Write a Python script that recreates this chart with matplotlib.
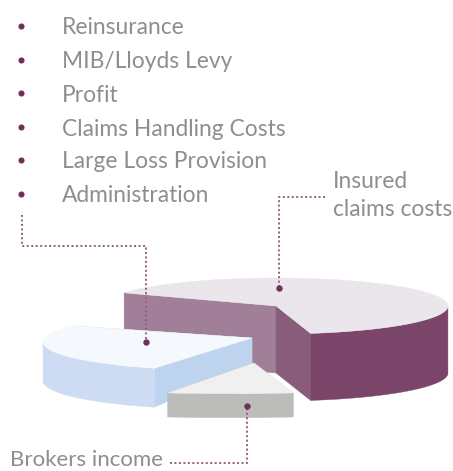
import numpy as np
import matplotlib
matplotlib.use("Agg")
import matplotlib.pyplot as plt
from matplotlib.patches import Polygon

legend_items = ["Reinsurance", "MIB/Lloyds Levy", "Profit", "Claims Handling Costs",
                "Large Loss Provision", "Administration"]
slice_names = ["Insured\nclaims costs", "Administration", "Brokers income"]
slice_shares = [64, 29, 7]

# styling / layout
start_deg = [152, 145, 257.4]        # where each slice's rim starts
direction = [-1, 1, 1]
centers = [(276, 306), (215, 342), (230.5, 362.7)]
radii = [(172, 28), (172, 28), (287, 31)]
apexes = [(276, 306), (252, 338), (254, 363)]
depths = [67, 39, 24]
apex_depths = [67, 26, 24]
top_cols = ["#ebe5ec", "#f5f9fe", "#f0f0f0"]
outer_cols = ["#7b4569", "#cddcf2", "#bcbcba"]
wall_a_cols = ["#a17f98", "#bed3ee", "#bcbcba"]   # wall from first rim end to apex
wall_b_cols = ["#8a5c7c", "#bed3ee", "#bcbcba"]   # wall from apex to last rim end
TEXT = "#8e8e8e"
DOT = "#6e2f5c"
LINE = "#8f5f80"
FS = 16.4

fig = plt.figure(figsize=(4.53, 4.71), dpi=100)
ax = fig.add_axes([0, 0, 1, 1])
ax.set_xlim(0, 453)
ax.set_ylim(471, 0)
ax.axis("off")


def rim(i, a, b):
    t = np.radians(np.linspace(a, b, 100))
    cx, cy = centers[i]
    rx, ry = radii[i]
    return np.column_stack([cx + rx * np.cos(t), cy - ry * np.sin(t)])


def draw_slice(i):
    a = start_deg[i]
    b = a + direction[i] * slice_shares[i] * 3.6
    edge = rim(i, a, b)
    apex = np.array(apexes[i], float)
    d = depths[i]
    ad = apex_depths[i]
    # inner walls
    for p, col in ((edge[0], wall_a_cols[i]), (edge[-1], wall_b_cols[i])):
        ax.add_patch(Polygon([p, apex, apex + (0, ad), p + (0, d)], fc=col, ec=col, lw=0.3, zorder=i + 1))
    # outer visible side
    norm = np.mod(np.linspace(a, b, 100), 360)
    vis = edge[norm >= 180]
    if len(vis) > 1:
        side = np.vstack([vis, (vis + (0, d))[::-1]])
        ax.add_patch(Polygon(side, fc=outer_cols[i], ec=outer_cols[i], lw=0.3, zorder=i + 1.1))
    ax.add_patch(Polygon(np.vstack([apex, edge]), fc=top_cols[i], ec=top_cols[i], lw=0.3, zorder=i + 1.2))


for i in range(3):
    draw_slice(i)

# legend
for y, label in zip([26, 60, 93, 127, 160, 194], legend_items):
    ax.plot([21], [y], "o", ms=4.4, color=DOT, mec="none", zorder=10)
    ax.text(62, y + 2, label, fontsize=FS, family="Lato", color=TEXT, va="center", ha="left")

# leader lines
leaders = [
    ([22, 22, 146, 146], [215, 246, 246, 342]),
    ([325, 279, 279], [197, 197, 288]),
    ([170, 247, 247], [463, 463, 406]),
]
for xs, ys in leaders:
    ax.plot(xs, ys, color=LINE, lw=1.4, ls=(0, (1, 1.3)), zorder=8)
    ax.plot([xs[-1]], [ys[-1]], "o", ms=4.6, color=DOT, mec="none", zorder=9)

lines = slice_names[0].split("\n")
ax.text(333, 182, lines[0], fontsize=FS, family="Lato", color=TEXT, va="center")
ax.text(333, 210, lines[1], fontsize=FS, family="Lato", color=TEXT, va="center")
ax.text(10, 460.5, slice_names[2], fontsize=16, family="Lato", color=TEXT, va="center")

fig.savefig("out.png", dpi=100)
